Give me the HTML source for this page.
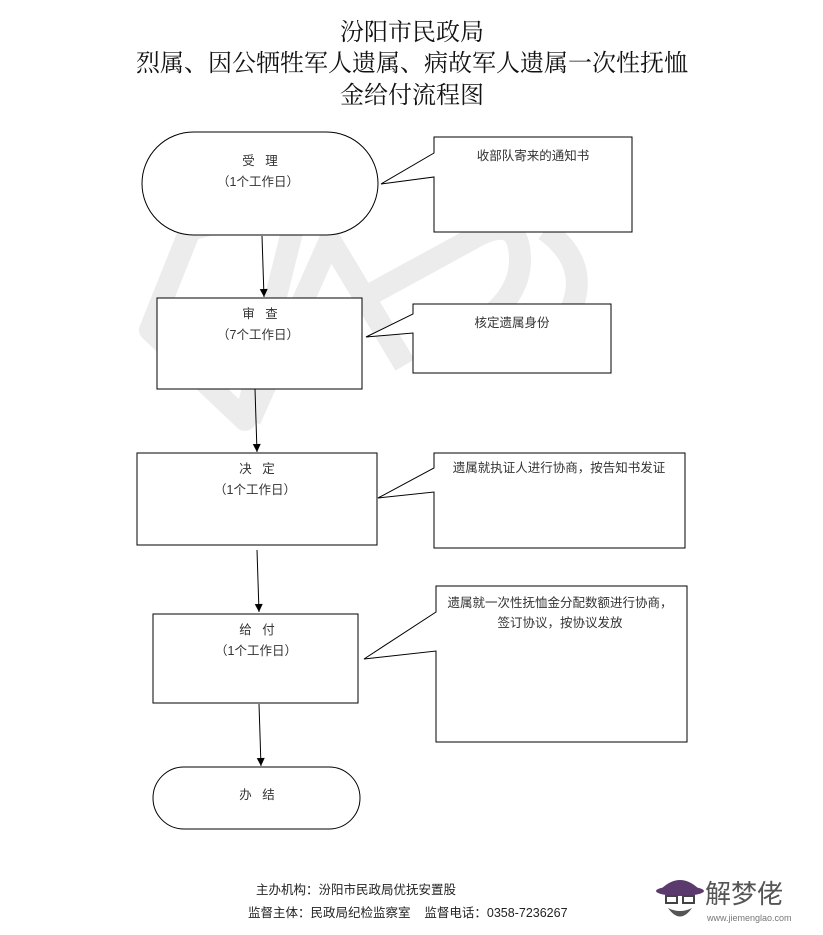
<!DOCTYPE html>
<html><head><meta charset="utf-8"><style>
html,body{margin:0;padding:0;background:#fff;}
svg{display:block;}
.t{font-family:"Liberation Serif","Noto Serif CJK SC",serif;font-size:24px;fill:#111;text-anchor:middle;}
.l{font-family:"Liberation Sans","Noto Sans CJK SC",sans-serif;font-size:12.5px;fill:#333;text-anchor:middle;}
.f{font-family:"Liberation Sans","Noto Sans CJK SC",sans-serif;font-size:12.5px;fill:#222;}
</style></head><body>
<svg width="823" height="935" viewBox="0 0 823 935" xmlns="http://www.w3.org/2000/svg">
<defs><marker id="a" markerWidth="10" markerHeight="10" refX="9" refY="5" orient="auto" markerUnits="userSpaceOnUse" viewBox="0 0 10 10"><path d="M1,1 L9,5 L1,9 Z" fill="#000"/></marker></defs>
<!-- watermark -->
<g fill="none" stroke="#ececec" stroke-width="22" stroke-linejoin="round">
<path d="M150,330 L245,420 L300,200 L190,230 Z"/>
<path d="M250,420 L330,240 L405,365"/>
<path d="M360,300 L470,240 Q520,210 520,260 Q520,300 470,330"/>
<path d="M470,230 Q560,160 620,180 M545,230 Q600,270 560,330"/>
</g>
<text class="t" x="412" y="40">汾阳市民政局</text>
<text class="t" x="412" y="71">烈属、因公牺牲军人遗属、病故军人遗属一次性抚恤</text>
<text class="t" x="412" y="103">金给付流程图</text>
<g fill="#fff" stroke="#000" stroke-width="1">
<rect x="142" y="132" width="236" height="103" rx="51.5"/>
<path d="M434,153 L434,137 L632,137 L632,232 L434,232 L434,177 L381,184 Z"/>
<rect x="157" y="298" width="205" height="91"/>
<path d="M413,314 L413,304 L611,304 L611,373 L413,373 L413,333 L366,337 Z"/>
<rect x="137" y="453" width="240" height="92"/>
<path d="M434,468 L434,453 L685,453 L685,548 L434,548 L434,492 L378,498 Z"/>
<rect x="153" y="614" width="205" height="89"/>
<path d="M436,612 L436,586 L687,586 L687,742 L436,742 L436,651 L364,659 Z"/>
<rect x="153" y="767" width="207" height="62" rx="31"/>
</g>
<g stroke="#000" stroke-width="1" marker-end="url(#a)">
<line x1="262" y1="236" x2="264" y2="297"/>
<line x1="255" y1="389" x2="257" y2="452"/>
<line x1="257" y1="550" x2="259" y2="612"/>
<line x1="259" y1="704" x2="261" y2="766"/>
</g>
<text class="l" x="260" y="165" xml:space="preserve">受   理</text>
<text class="l" x="258" y="186">（1个工作日）</text>
<text class="l" x="533" y="160">收部队寄来的通知书</text>
<text class="l" x="260" y="318" xml:space="preserve">审   查</text>
<text class="l" x="258" y="339">（7个工作日）</text>
<text class="l" x="512" y="327">核定遗属身份</text>
<text class="l" x="257" y="473" xml:space="preserve">决   定</text>
<text class="l" x="255" y="494">（1个工作日）</text>
<text class="l" x="559" y="472">遗属就执证人进行协商，按告知书发证</text>
<text class="l" x="257" y="634" xml:space="preserve">给   付</text>
<text class="l" x="256" y="655">（1个工作日）</text>
<text class="l" x="560" y="607">遗属就一次性抚恤金分配数额进行协商，</text>
<text class="l" x="560" y="627">签订协议，按协议发放</text>
<text class="l" x="257" y="799" xml:space="preserve">办   结</text>
<text class="f" x="256" y="894">主办机构：汾阳市民政局优抚安置股</text>
<text class="f" x="248" y="917" xml:space="preserve">监督主体：民政局纪检监察室    监督电话：0358-7236267</text>
<!-- logo -->
<g>
<path d="M660,890 Q680,870 700,890 Z" fill="#5b3a6e"/>
<ellipse cx="680" cy="891" rx="24" ry="5" fill="#5b3a6e"/>
<rect x="666" y="896" width="11" height="7" fill="none" stroke="#444" stroke-width="2"/>
<rect x="683" y="896" width="11" height="7" fill="none" stroke="#444" stroke-width="2"/>
<path d="M668,908 Q680,925 692,908 Q680,914 668,908 Z" fill="#555"/>
<text x="705" y="903" font-family="Liberation Sans,'Noto Sans CJK SC',sans-serif" font-size="26" fill="#555">解梦佬</text>
<text x="707" y="921" font-family="Liberation Sans,sans-serif" font-size="9" fill="#777">www.jiemenglao.com</text>
</g>
</svg>
</body></html>
